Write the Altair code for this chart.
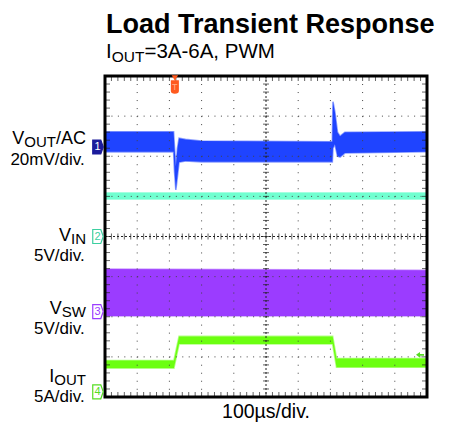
import altair as alt
import pandas as pd
import numpy as np

# ---------------- data (screen divisions: x 0..10, y 0..8 from bottom) -------------
vout_x  = [0, 2.13, 2.16, 2.20, 2.25, 2.30, 2.50, 3.00, 7.06, 7.08, 7.14, 7.22, 7.30, 7.45, 10]
vout_hi = [6.61, 6.61, 6.20, 5.75, 6.20, 6.45, 6.42, 6.38, 6.36, 7.36, 7.10, 6.60, 6.50, 6.60, 6.61]
vout_lo = [6.11, 6.11, 5.60, 5.16, 5.50, 5.85, 5.88, 5.86, 5.86, 6.20, 6.30, 6.00, 5.98, 6.08, 6.11]

vin_x  = [0, 10]
vin_hi = [5.09, 5.09]
vin_lo = [4.93, 4.93]

vsw_x  = [0, 10]
vsw_hi = [3.19, 3.16]
vsw_lo = [2.02, 2.02]

iout_x  = [0, 2.14, 2.30, 7.07, 7.19, 10]
iout_hi = [0.91, 0.91, 1.51, 1.51, 0.96, 0.96]
iout_lo = [0.72, 0.72, 1.32, 1.32, 0.74, 0.74]

series_names = ["VOUT", "VIN", "VSW", "IOUT"]
channel_ids = ["1", "2", "3", "4"]
channel_levels = [6.23, 4.0, 2.13, 0.13]
trigger_x = 2.17
trigger_level = 1.05

title_text = "Load Transient Response"
x_label = "100µs/div."

# ---------------- geometry / styles ----------------
W, H = 322, 321
FONT = "Liberation Sans"
colors = ["#1f44ff", "#70ffd0", "#9b3cff", "#6cff10"]

xs = alt.Scale(domain=[0, 10], nice=False, zero=False)
ys = alt.Scale(domain=[0, 8], nice=False, zero=False)

rows = []
for name, xv, hv, lv in [("VOUT", vout_x, vout_hi, vout_lo), ("VIN", vin_x, vin_hi, vin_lo),
                         ("VSW", vsw_x, vsw_hi, vsw_lo), ("IOUT", iout_x, iout_hi, iout_lo)]:
    for a, b, c in zip(xv, hv, lv):
        rows.append({"series": name, "x": a, "hi": b, "lo": c})
traces_df = pd.DataFrame(rows)

cscale = alt.Scale(domain=series_names, range=colors)
traces = alt.Chart(traces_df).mark_area(interpolate="linear", strokeWidth=1.6, strokeOpacity=0.5).encode(
    x=alt.X("x:Q", scale=xs, axis=None),
    y=alt.Y("hi:Q", scale=ys, axis=None),
    y2="lo:Q",
    color=alt.Color("series:N", scale=cscale, legend=None),
    stroke=alt.Stroke("series:N", scale=cscale, legend=None),
    detail="series:N",
)

# graticule
gx = pd.DataFrame({"v": [1, 2, 3, 4, 6, 7, 8, 9]})
gy = pd.DataFrame({"v": [1, 2, 3, 5, 6, 7]})
grid_v = alt.Chart(gx).mark_rule(color="#444", strokeWidth=1, strokeDash=[1, 7.02]).encode(
    x=alt.X("v:Q", scale=xs, axis=None), y=alt.Y(datum=8, scale=ys, axis=None), y2=alt.datum(0))
grid_h = alt.Chart(gy).mark_rule(color="#444", strokeWidth=1, strokeDash=[1, 5.44]).encode(
    y=alt.Y("v:Q", scale=ys, axis=None), x=alt.X(datum=0, scale=xs, axis=None), x2=alt.datum(10))

center_v = alt.Chart(pd.DataFrame({"v": [5]})).mark_rule(color="#222", strokeWidth=1, strokeDash=[2, 2]).encode(
    x=alt.X("v:Q", scale=xs, axis=None), y=alt.Y(datum=8, scale=ys, axis=None), y2=alt.datum(0))
center_h = alt.Chart(pd.DataFrame({"v": [4]})).mark_rule(color="#222", strokeWidth=1, strokeDash=[2, 2]).encode(
    y=alt.Y("v:Q", scale=ys, axis=None), x=alt.X(datum=0, scale=xs, axis=None), x2=alt.datum(10))

tx = pd.DataFrame({"t": np.round(np.arange(0.2, 10, 0.2), 2)})
ty = pd.DataFrame({"t": np.round(np.arange(0.2, 8, 0.2), 2)})


def vticks(yval, off, size):
    return alt.Chart(tx).mark_tick(orient="vertical", size=size, thickness=1, color="#222", yOffset=off).encode(
        x=alt.X("t:Q", scale=xs, axis=None), y=alt.Y(datum=yval, scale=ys, axis=None))


def hticks(xval, off, size):
    return alt.Chart(ty).mark_tick(orient="horizontal", size=size, thickness=1, color="#222", xOffset=off).encode(
        y=alt.Y("t:Q", scale=ys, axis=None), x=alt.X(datum=xval, scale=xs, axis=None))


ticks = [vticks(4, 0, 6), hticks(5, 0, 6), vticks(8, 2.5, 5), vticks(0, -2.5, 5),
         hticks(0, 2.5, 5), hticks(10, -2.5, 5)]

frame = alt.Chart(pd.DataFrame({"a": [0]})).mark_rect(fillOpacity=0, stroke="black", strokeWidth=3).encode(
    x=alt.X(datum=0, scale=xs, axis=None), x2=alt.datum(10),
    y=alt.Y(datum=0, scale=ys, axis=None), y2=alt.datum(8))

# channel markers
mk_style = [("#1c1c9c", "#1c1c9c", "white"), ("white", "#3ccfa0", "#3ccfa0"),
            ("white", "#9b3cff", "#9b3cff"), ("white", "#55dd22", "#55dd22")]
mk_path = "M-0.75,-1 L0.4,-1 L0.75,0 L0.4,1 L-0.75,1 Z"
markers = []
for cid, lvl, (fc, sc, tc) in zip(channel_ids, channel_levels, mk_style):
    d = pd.DataFrame({"id": [cid], "lvl": [lvl]})
    markers.append(alt.Chart(d).mark_point(shape=mk_path, size=196, filled=True, fill=fc, stroke=sc,
                                           strokeWidth=1.2, opacity=1).encode(
        x=alt.value(-7), y=alt.Y("lvl:Q", scale=ys, axis=None)))
    markers.append(alt.Chart(d).mark_text(font=FONT, fontSize=11, color=tc, baseline="middle", align="center").encode(
        x=alt.value(-7.5), y=alt.Y("lvl:Q", scale=ys, axis=None), text="id:N"))

trig = pd.DataFrame({"x": [trigger_x], "lvl": [trigger_level]})
orange = "#ff5a1f"
trig_tri = alt.Chart(trig).mark_point(shape="triangle-down", size=40, filled=True, color=orange, opacity=1, yOffset=2).encode(
    x=alt.X("x:Q", scale=xs, axis=None), y=alt.Y(datum=8, scale=ys, axis=None))
trig_body = alt.Chart(trig).mark_point(shape="M-0.6,-1 L0.6,-1 L0.6,0.6 Q0.6,1 0,1 Q-0.6,1 -0.6,0.6 Z", size=180,
                                       filled=True, color=orange, opacity=1, yOffset=11).encode(
    x=alt.X("x:Q", scale=xs, axis=None), y=alt.Y(datum=8, scale=ys, axis=None))
trig_t = alt.Chart(trig).mark_text(text="T", font=FONT, fontSize=9, color="#ffb08a", yOffset=11, baseline="middle").encode(
    x=alt.X("x:Q", scale=xs, axis=None), y=alt.Y(datum=8, scale=ys, axis=None))
lvl_arrow = alt.Chart(trig).mark_point(shape="M-1,0 L0,-0.7 L0,-0.2 L1,-0.2 L1,0.2 L0,0.2 L0,0.7 Z", size=64,
                                       filled=True, color="#55dd22", opacity=1, xOffset=-7).encode(
    x=alt.X(datum=10, scale=xs, axis=None), y=alt.Y("lvl:Q", scale=ys, axis=None))

# ---------------- text ----------------
REG = {'V': 667, 'O': 778, 'U': 722, 'T': 611, '/': 278, 'A': 667, 'C': 722, 'I': 278, 'N': 722, 'S': 667,
       'W': 944, '2': 556, '0': 556, 'm': 833, 'd': 556, 'i': 222, 'v': 500, '.': 278, '5': 556, '=': 584,
       '3': 556, '-': 333, '6': 556, ',': 278, ' ': 278, 'P': 667, 'M': 833, '1': 556, 'µ': 576, 's': 500}


def tw(s, size):
    return sum(REG.get(c, 556) for c in s) * size / 1000.0


def txt(s, x, y, size, align="left", weight="normal"):
    return alt.Chart(pd.DataFrame({"s": [s]})).mark_text(font=FONT, fontSize=size, fontWeight=weight, align=align,
                                                         baseline="alphabetic", color="black").encode(
        text="s:N", x=alt.value(x), y=alt.value(y))


def rich(pieces, xright, ybase):
    # pieces: (text, size, dy)
    total = sum(tw(p[0], p[1]) for p in pieces)
    x = xright - total
    out = []
    for s, size, dy in pieces:
        out.append(txt(s, x, ybase + dy, size))
        x += tw(s, size)
    return out


texts = [txt(title_text, 1, -43, 27, weight="bold")]
sub = [("I", 20.5, 0), ("OUT", 15.5, 4), ("=3A-6A, PWM", 20.5, 0)]
x0 = 1
for s, size, dy in sub:
    texts.append(txt(s, x0, -18 + dy, size))
    x0 += tw(s, size)

LS, VS, SS, XR = 17, 18, 15, -19
texts += rich([("V", VS, 0), ("OUT", SS, 2.5), ("/AC", VS, 0)], XR, 68)
texts += rich([("20mV/div.", LS, 0)], XR, 89)
texts += rich([("V", VS, 0), ("IN", SS, 2.5)], XR, 165)
texts += rich([("5V/div.", LS, 0)], XR, 185)
texts += rich([("V", VS, 0), ("SW", SS, 2.5)], XR, 238)
texts += rich([("5V/div.", LS, 0)], XR, 258)
texts += rich([("I", VS, 0), ("OUT", SS, 2.5)], XR, 306)
texts += rich([("5A/div.", LS, 0)], XR, 326)
texts.append(txt(x_label, W / 2, 342, 19.5, align="center"))

chart = alt.layer(traces, grid_v, grid_h, center_v, center_h, *ticks, frame, *markers,
                  trig_tri, trig_body, trig_t, lvl_arrow, *texts).properties(
    width=W, height=H,
    autosize=alt.AutoSizeParams(type="none"),
    padding={"left": 97, "top": 68, "right": 14, "bottom": 25},
).configure_view(stroke=None)

chart.save("out.html", embed_options={"renderer": "svg", "actions": False})
